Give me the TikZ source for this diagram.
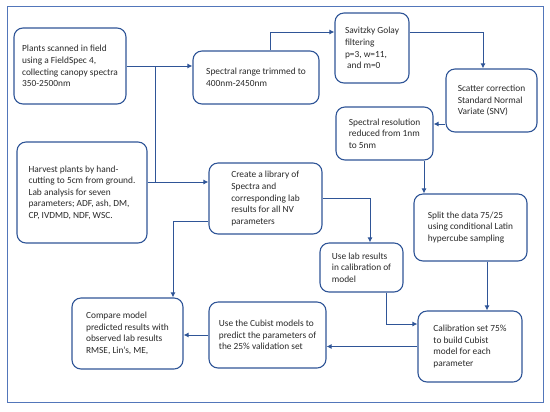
\documentclass[tikz,border=0pt]{standalone}
\usepackage{fontspec}
\setmainfont{Carlito}
\definecolor{flowblue}{RGB}{47,85,151}
\definecolor{frameblue}{RGB}{82,118,186}
\definecolor{flowtext}{RGB}{40,40,40}
\usetikzlibrary{arrows.meta, positioning}

\tikzset{
  box/.style={draw=flowblue, line width=1.1bp, rounded corners=9bp, align=left,
    text=flowtext, font=\fontsize{9.4}{11.6}\selectfont, inner sep=0pt},
  arr/.style={draw=flowblue, line width=1bp, -{Latex[length=5bp,width=5bp]}},
  ln/.style={draw=flowblue, line width=1bp}
}

\begin{document}
\begin{tikzpicture}[x=1bp, y=-1bp]
  \useasboundingbox (0,0) rectangle (550,411);
  \draw[draw=frameblue, line width=1bp] (7,6) rectangle (543,402);

  % boxes
  \node[box, minimum width=112bp, minimum height=76bp] (scan) at (70,66)
    {Plants scanned in field\\using a FieldSpec 4,\\collecting canopy spectra\\350-2500nm};
  \node[box, minimum width=126bp, minimum height=53bp] (trim) at (256,77.5)
    {Spectral range trimmed to\\400nm-2450nm};
  \node[box, minimum width=74bp, minimum height=70bp] (sg) at (372,48)
    {Savitzky Golay\\filtering\\p=3, w=11,\\\ and m=0};
  \node[box, minimum width=91bp, minimum height=63bp] (snv) at (491.5,100.5)
    {Scatter correction\\Standard Normal\\Variate (SNV)};
  \node[box, minimum width=97bp, minimum height=53bp] (res) at (384.5,133.5)
    {Spectral resolution\\reduced from 1nm\\to 5nm};
  \node[box, minimum width=130bp, minimum height=101bp] (harvest) at (82,192.5)
    {Harvest plants by hand-\\cutting to 5cm from ground.\\Lab analysis for seven\\parameters; ADF, ash, DM,\\CP, IVDMD, NDF, WSC.};
  \node[box, minimum width=113bp, minimum height=71bp] (lib) at (265.5,198.5)
    {Create a library of\\Spectra and\\corresponding lab\\results for all NV\\parameters};
  \node[box, minimum width=83bp, minimum height=49bp] (use) at (361.5,267.5)
    {Use lab results\\in calibration of\\model};
  \node[box, minimum width=113bp, minimum height=67bp] (split) at (470.5,227.5)
    {Split the data 75/25\\using conditional Latin\\hypercube sampling};
  \node[box, minimum width=104bp, minimum height=71bp] (cal) at (470,346.5)
    {Calibration set 75\%\\to build Cubist\\model for each\\parameter};
  \node[box, minimum width=117bp, minimum height=66bp] (cub) at (267.5,335)
    {Use the Cubist models to\\predict the parameters of\\the 25\% validation set};
  \node[box, minimum width=111bp, minimum height=71bp] (cmp) at (127.5,333.5)
    {Compare model\\predicted results with\\observed lab results\\RMSE, Lin’s, ME,};

  % bends
  \coordinate (j1) at (155,66);
  \coordinate (j2) at (155,182);
  \coordinate (k1) at (270,32);
  \coordinate (k2) at (483,32);
  \coordinate (k3) at (440,124);
  \coordinate (k4) at (424,170);
  \coordinate (k5) at (370,199);
  \coordinate (k6) at (173,221);
  \coordinate (k7) at (487,285);
  \coordinate (k8) at (386,324);

  % connectors
  \draw[arr] (scan.east) -- (scan.east -| trim.west);
  \draw[ln] (j1) -- (j2);
  \draw[ln] (harvest.east |- j2) -- (j2);
  \draw[arr] (j2) -- (j2 -| lib.west);
  \draw[arr] (k1 |- trim.north) |- (k1 -| sg.west);
  \draw[arr] (k2 -| sg.east) -| (k2 |- snv.north);
  \draw[arr] (k3 -| snv.west) -- (k3 -| res.east);
  \draw[arr] (k4 |- res.south) -- (k4 |- split.north);
  \draw[arr] (lib.east) -| (k5 |- use.north);
  \draw[arr] (k6 -| lib.west) -| (k6 |- cmp.north);
  \draw[arr] (k7 |- split.south) -- (k7 |- cal.north);
  \draw[arr] (k8 |- use.south) |- (k8 -| cal.west);
  \draw[arr] (cal.west) -- (cal.west -| cub.east);
  \draw[arr] (cub.west) -- (cub.west -| cmp.east);
\end{tikzpicture}
\end{document}
